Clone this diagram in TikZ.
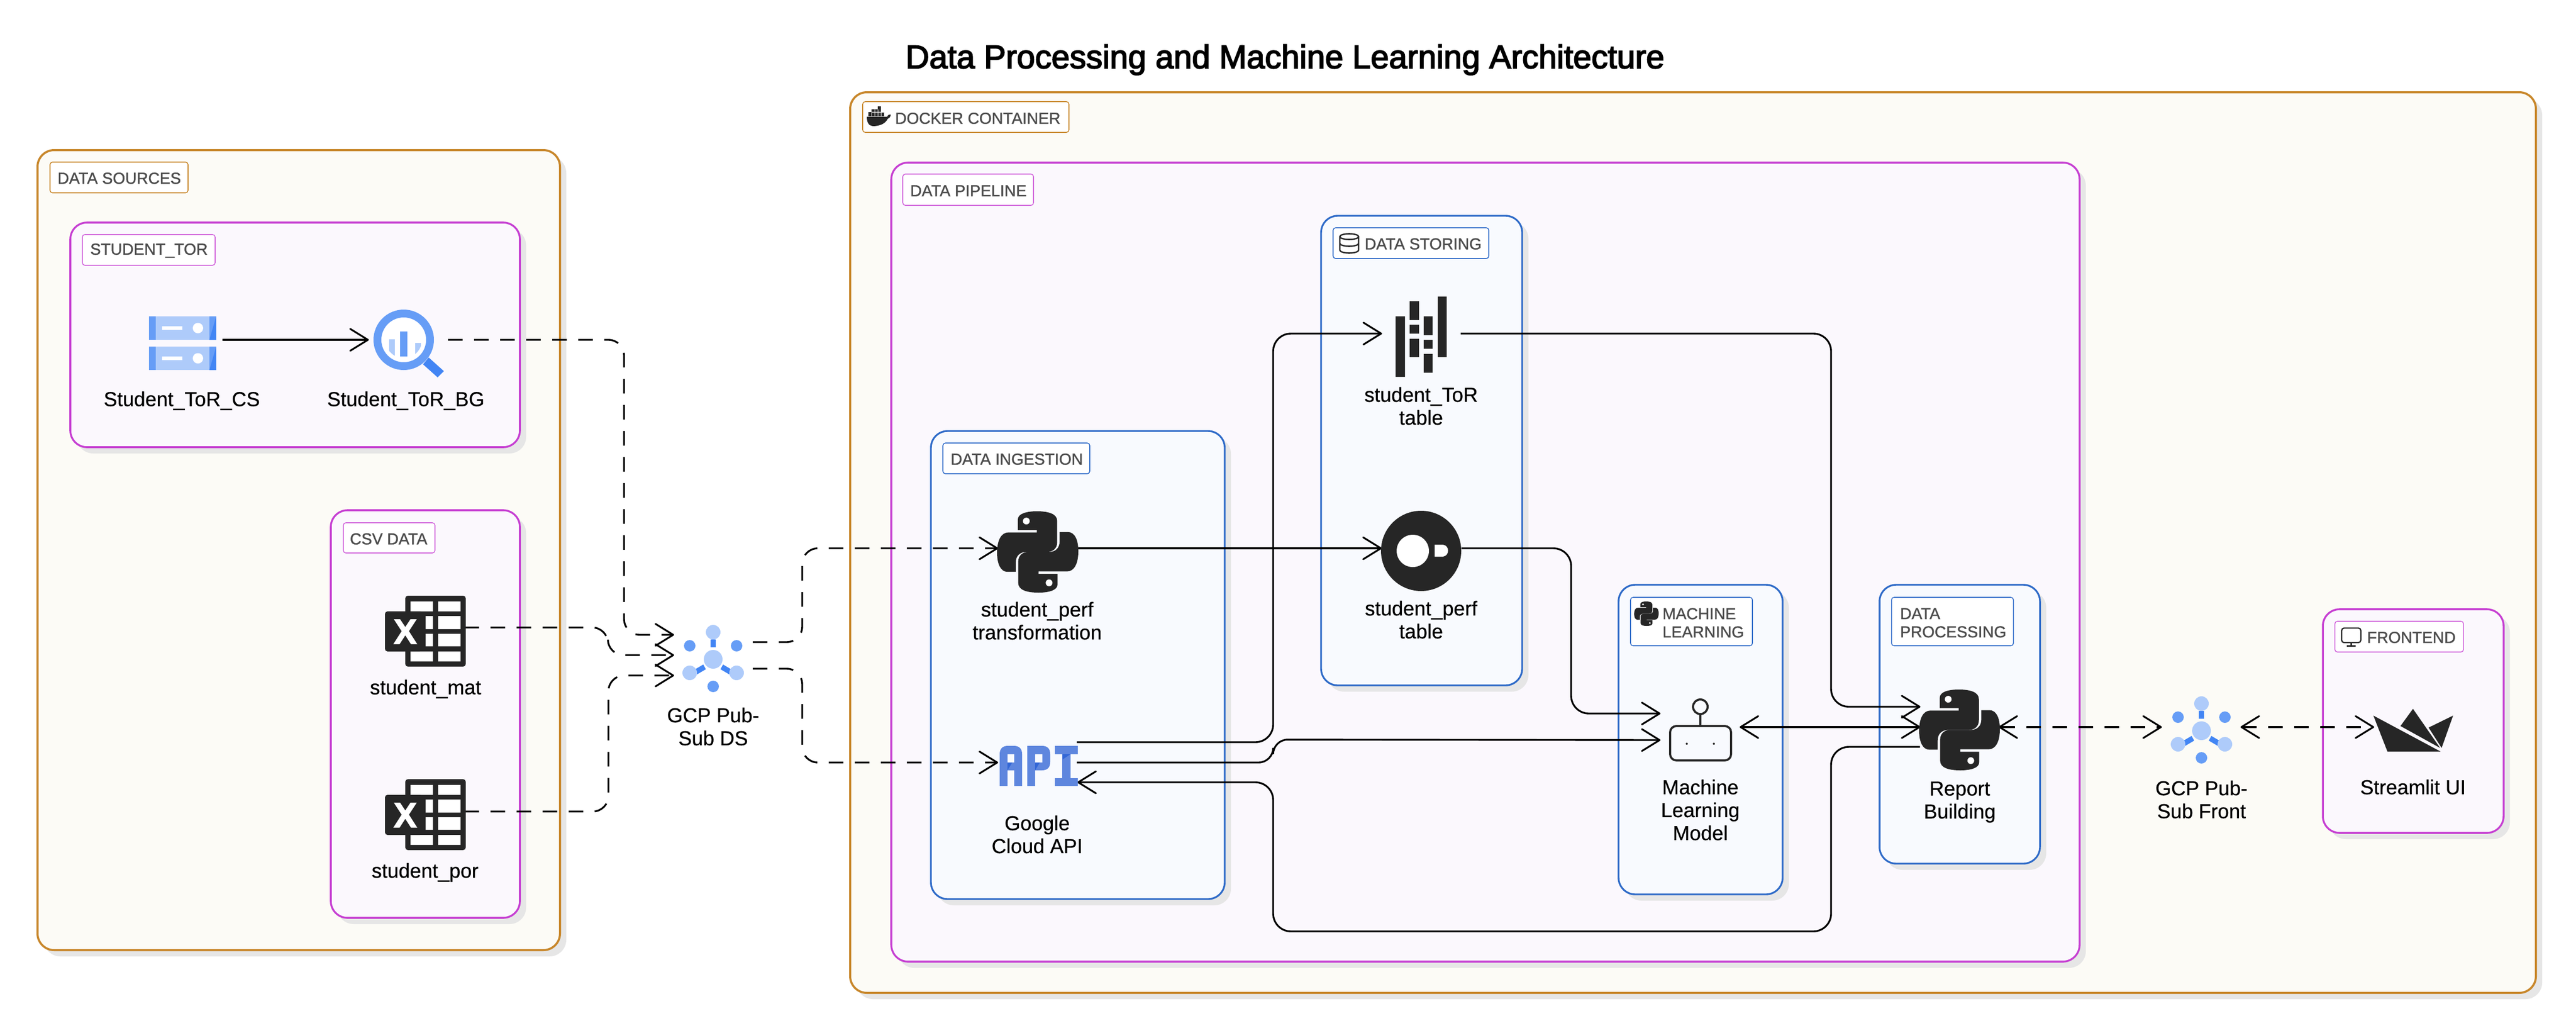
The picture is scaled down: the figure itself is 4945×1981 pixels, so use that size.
\documentclass[tikz,border=0pt]{standalone}
\usepackage{fontspec}
\usetikzlibrary{arrows.meta,calc,shadows}
\setmainfont{Liberation Sans}
\newfontfamily\titlefont[FakeBold=3]{Liberation Sans}
\newfontfamily\tagfont[FakeBold=1.2]{Liberation Sans}
\newfontfamily\labfont[FakeBold=0.5]{Liberation Sans}
\definecolor{orangeS}{HTML}{C8872B}
\definecolor{orangeF}{HTML}{FCFBF6}
\definecolor{magS}{HTML}{C63FD2}
\definecolor{magF}{HTML}{FBF8FD}
\definecolor{bluS}{HTML}{2F6BC8}
\definecolor{bluF}{HTML}{F8FAFE}
\definecolor{shade}{HTML}{E6E6E6}
\definecolor{ink}{HTML}{262626}
\definecolor{tagtext}{HTML}{4D4D4D}
\definecolor{gLight}{HTML}{AECBFA}
\definecolor{gMid}{HTML}{669DF6}
\definecolor{gDark}{HTML}{4285F4}
\definecolor{apiC}{HTML}{5E86DE}
\definecolor{apiD}{HTML}{3367D6}
\tikzset{
  grpbox/.style={rectangle,inner sep=0pt,outer sep=0pt,rounded corners=16pt,
    drop shadow={shadow xshift=6pt,shadow yshift=-6pt,fill=shade,opacity=1}},
  outerbox/.style={grpbox,draw=orangeS,fill=orangeF,line width=2pt},
  magbox/.style={grpbox,draw=magS,fill=magF,line width=1.8pt},
  blubox/.style={grpbox,draw=bluS,fill=bluF,line width=1.7pt},
  tagbox/.style={rectangle,inner sep=0pt,outer sep=0pt,rounded corners=2.5pt,fill=white,line width=.8pt},
  tagO/.style={tagbox,draw=orangeS},
  tagM/.style={tagbox,draw=magS!80},
  tagB/.style={tagbox,draw=bluS},
  tagtxt/.style={inner sep=0pt,text=tagtext,font=\tagfont\fontsize{15.3}{17.5}\selectfont,align=left},
  lab/.style={inner sep=0pt,text=black,font=\labfont\fontsize{19.4}{22}\selectfont,align=center},
  iconbox/.style={rectangle,draw=none,inner sep=0pt,outer sep=0pt},
  flow/.style={draw=black,line width=1.7pt,rounded corners=17pt},
  dflow/.style={flow,rounded corners=15pt,dash pattern=on 14pt off 11pt},
  tipin/.style={-{Straight Barb[length=17pt,width=21pt,round]}},
  tipboth/.style={{Straight Barb[length=17pt,width=21pt,round]}-{Straight Barb[length=17pt,width=21pt,round]}},
  pylogo/.pic={
    \fill[ink] (25.6,23) -- (25.6,10) .. controls (25.6,3) and (36,0) .. (49,0) .. controls (63,0) and (74,3) .. (74,12) -- (74,38) .. controls (74,46) and (68,50) .. (62,50) -- (36,50) .. controls (28,50) and (23,55) .. (23,63) -- (23,74.5) -- (13,74.5) .. controls (4,74.5) and (0,64) .. (0,51) .. controls (0,36) and (5,26) .. (14,26) -- (49,26) -- (49,23) -- cycle;
    \fill[ink,rotate around={180:(50,50)}] (25.6,23) -- (25.6,10) .. controls (25.6,3) and (36,0) .. (49,0) .. controls (63,0) and (74,3) .. (74,12) -- (74,38) .. controls (74,46) and (68,50) .. (62,50) -- (36,50) .. controls (28,50) and (23,55) .. (23,63) -- (23,74.5) -- (13,74.5) .. controls (4,74.5) and (0,64) .. (0,51) .. controls (0,36) and (5,26) .. (14,26) -- (49,26) -- (49,23) -- cycle;
    \fill[white] (36,12) circle[radius=4.2];
    \fill[white] (64,88) circle[radius=4.2];
  },
  excel/.pic={
    \fill[ink,rounded corners=2.5pt] (39,0) rectangle (155,136);
    \fill[white] (49,11) rectangle (92,30) (102,11) rectangle (145,30)
      (102,39) rectangle (145,64) (102,73) rectangle (145,97)
      (49,107) rectangle (92,126) (102,107) rectangle (145,126)
      (78,39) rectangle (92,64) (78,73) rectangle (92,97);
    \fill[ink,rounded corners=2.5pt] (0,30) rectangle (72,107);
    \fill[white] (17,45) -- (29,45) -- (39,60) -- (49,45) -- (61,45) -- (46,68) -- (62,93) -- (50,93) -- (39,76) -- (28,93) -- (16,93) -- (32,68) -- cycle;
  },
  pubsub/.pic={
    \fill[gDark] (-5,-38) rectangle (5,-23);
    \fill[gDark] (-36,20) -- (-19,10) -- (-14,19) -- (-31,29) -- cycle;
    \fill[gDark] (36,20) -- (19,10) -- (14,19) -- (31,29) -- cycle;
    \fill[gLight] (0,0) circle[radius=18];
    \fill[gLight] (0,-52) circle[radius=14];
    \fill[gLight] (-45,26) circle[radius=14];
    \fill[gLight] (45,26) circle[radius=14];
    \fill[gMid] (-45,-26) circle[radius=11];
    \fill[gMid] (45,-26) circle[radius=11];
    \fill[gMid] (0,52) circle[radius=11];
  },
  server/.pic={
    \fill[gLight] (0,0) rectangle (129,45);
    \fill[gMid] (0,0) rectangle (13,45);
    \fill[gMid] (116,0) rectangle (129,45);
    \fill[gDark] (129,0) -- (129,45) -- (116,45) -- cycle;
    \fill[white] (25,19) rectangle (64,26);
    \fill[white] (94,22.5) circle[radius=10];
  }
}
\newcommand\grp[6]{\node[#6,anchor=north west,minimum width={(#4-#2)*.5pt},minimum height={(#5-#3)*.5pt}] (#1) at (#2,#3) {};}
\newcommand\icon[5]{\node[iconbox,minimum width={#4*.5pt},minimum height={#5*.5pt}] (#1) at (#2,#3) {};}
\begin{document}
\begin{tikzpicture}[x=0.5pt,y=-0.5pt]
\useasboundingbox (0,0) rectangle (4945,1981);
\fill[white] (0,0) rectangle (4945,1981);
% title
\node[inner sep=0pt,anchor=base west,font=\titlefont\fontsize{31.5}{36}\selectfont] (title) at (1738,131) {Data Processing and Machine Learning Architecture};
% groups
\grp{sources}{72}{288}{1075}{1823}{outerbox}
\grp{docker}{1632}{177}{4868}{1905}{outerbox}
\grp{studtor}{135}{427}{998}{858}{magbox}
\grp{csv}{635}{979}{998}{1761}{magbox}
\grp{pipeline}{1711}{312}{3992}{1845}{magbox}
\grp{ingest}{1787}{827}{2351}{1725}{blubox}
\grp{storing}{2536}{414}{2922}{1315}{blubox}
\grp{mlbox}{3107}{1122}{3422}{1716}{blubox}
\grp{procbox}{3608}{1122}{3916}{1657}{blubox}
\grp{front}{4459}{1169}{4806}{1598}{magbox}
% group tags
\grp{tSources}{96}{311}{361}{370}{tagO}
\node[tagtxt] (xSources) at (229,342) {DATA SOURCES};
\grp{tTor}{158}{450}{413}{509}{tagM}
\node[tagtxt] (xTor) at (286,481) {STUDENT\_TOR};
\grp{tCsv}{659}{1003}{835}{1061}{tagM}
\node[tagtxt] (xCsv) at (746,1034) {CSV DATA};
\grp{tDocker}{1656}{195}{2052}{254}{tagO}
\node[tagtxt] (xDocker) at (1877,227) {DOCKER CONTAINER};
\grp{tPipe}{1733}{334}{1984}{394}{tagM}
\node[tagtxt] (xPipe) at (1859,366) {DATA PIPELINE};
\grp{tIngest}{1810}{850}{2092}{909}{tagB}
\node[tagtxt] (xIngest) at (1952,881) {DATA INGESTION};
\grp{tStoring}{2559}{437}{2858}{496}{tagB}
\node[tagtxt] (xStoring) at (2732,468) {DATA STORING};
\grp{tMl}{3130}{1146}{3364}{1239}{tagB}
\node[tagtxt,anchor=west] (xMl) at (3191,1195) {MACHINE\\LEARNING};
\grp{tProc}{3631}{1146}{3865}{1239}{tagB}
\node[tagtxt,anchor=west] (xProc) at (3647,1195) {DATA\\PROCESSING};
\grp{tFront}{4482}{1192}{4729}{1251}{tagM}
\node[tagtxt] (xFront) at (4629,1223) {FRONTEND};
% tag icons
% docker whale
\fill[ink] (1664,224) -- (1703,224) .. controls (1704,221) and (1707,219) .. (1710,220) .. controls (1709,225) and (1707,227) .. (1704,228) .. controls (1700,236) and (1692,241) .. (1678,242) .. controls (1668,242) and (1664,236) .. (1664,224) -- cycle;
\fill[ink] (1667,215) rectangle (1697,223) (1673,209.5) rectangle (1691,214.5) (1685,204) rectangle (1691,209.5);
\draw[white,line width=.3pt] (1673,215)--(1673,223) (1679,210)--(1679,223) (1685,210)--(1685,223) (1691,215)--(1691,223) (1673,214.8)--(1697,214.8);
% db icon
\draw[ink,line width=1.3pt] (2572,454) -- (2572,480) arc[start angle=180,end angle=0,x radius=18,y radius=5.5] -- (2608,454)
  (2572,467) arc[start angle=180,end angle=0,x radius=18,y radius=5.5]
  (2590,454) ellipse[x radius=18,y radius=5.5];
% monitor icon
\draw[ink,line width=1.2pt,rounded corners=2.5pt] (4495,1205) rectangle (4532,1233);
\fill[ink] (4512,1233) rectangle (4515,1239);
\fill[ink] (4505,1238) rectangle (4522,1241);
\pic[scale=.47] at (3137,1154) {pylogo};
% icons: anchors
\icon{srv}{350}{658}{130}{103}
\icon{bq}{775}{652}{116}{116}
\icon{mat}{816}{1211}{155}{136}
\icon{por}{816}{1563}{155}{136}
\icon{hubds}{1369}{1265}{116}{134}
\icon{pyT}{1992}{1058}{156}{156}
\icon{api}{1994}{1470}{150}{77}
\icon{tor}{2728}{646}{98}{154}
\icon{perf}{2728}{1057}{155}{154}
\icon{robot}{3264}{1415}{117}{90}
\icon{pyR}{3762}{1400}{155}{155}
\icon{hubfr}{4226}{1402}{116}{134}
\icon{stream}{4632}{1400}{155}{82}
% connectors
\draw[flow,tipin] ($(srv.east)+(12,-6)$) -- ($(bq.west)+(-9,0)$);
\draw[dflow,tipin] ($(bq.east)+(27,0)$) -- (1198,652) -- (1198,1218) -- ($(hubds.west)+(-17,-47)$);
\draw[dflow,tipin] ($(mat.east)+(-2,-7)$) -- (1167,1204) -- (1167,1257) -- ($(hubds.west)+(-17,-8)$);
\draw[dflow,tipin] ($(por.east)+(-2,-6)$) -- (1168,1557) -- (1168,1296) -- ($(hubds.west)+(-17,31)$);
\draw[dflow,tipin] ($(hubds.east)+(18,-33)$) -- (1540,1232) -- (1540,1052) -- ($(pyT.west)+(2,-6)$);
\draw[dflow,tipin] ($(hubds.east)+(18,18)$) -- (1540,1283) -- (1540,1463) -- ($(api.west)+(-3,-7)$);
\draw[flow,tipin] ($(pyT.east)+(0,-6)$) -- ($(perf.west)+(2,-5)$);
\draw[flow,tipin] ($(api.east)+(-2,-46)$) -- (2444,1424) -- (2444,640) -- ($(tor.west)+(-26,-6)$);
\draw[flow,tipin,rounded corners=14pt] ($(api.east)+(-2,-7)$) -- (2444,1463) -- (2444,1419) -- ($(robot.west)+(-18,5)$);
\draw[flow,tipin] ($(pyR.west)+(1,33)$) -- (3515,1433) -- (3515,1787) -- (2444,1787) -- (2444,1501) -- ($(api.east)+(-1,31)$);
\draw[flow,tipin] ($(tor.east)+(27,-6)$) -- (3515,640) -- (3515,1356) -- ($(pyR.west)+(2,-44)$);
\draw[flow,tipin] ($(perf.east)+(0,-5)$) -- (3016,1052) -- (3016,1369) -- ($(robot.west)+(-18,-46)$);
\draw[flow,tipboth] ($(robot.east)+(17,-20)$) -- ($(pyR.west)+(2,-5)$);
\draw[dflow,tipboth] ($(pyR.east)+(-3,-5)$) -- ($(hubfr.west)+(-18,-7)$);
\draw[dflow,tipboth] ($(hubfr.east)+(17,-7)$) -- ($(stream.west)+(3,-5)$);
% server icon
\pic at (286,607) {server};
\pic at (286,665) {server};
% bigquery icon
\begin{scope}[shift={(-3,0)}]
\fill[gDark] (826,686) -- (855,712) -- (843,724) -- (815,699) -- cycle;
\fill[white] (778,652) circle[radius=43];
\fill[gMid,even odd rule] (778,652) circle[radius=58] (778,652) circle[radius=43];
\begin{scope}
\clip (778,652) circle[radius=35];
\fill[gLight] (750,651) rectangle (761,690);
\fill[gLight] (800,658) rectangle (811,690);
\end{scope}
\fill[gMid] (771,636) rectangle (785,684);
\end{scope}
% excel icons
\pic at (739,1143) {excel};
\pic at (739,1495) {excel};
% pubsub icons
\pic at (1369,1265) {pubsub};
\pic at (4226,1402) {pubsub};
% python icons
\pic[scale=1.56] at (1914,981) {pylogo};
\pic[scale=1.55] at (3684,1323) {pylogo};
% api icon
\fill[apiC,even odd rule] (1919,1508) -- (1919,1447) .. controls (1919,1436) and (1925,1431) .. (1935,1431) -- (1946,1431) .. controls (1956,1431) and (1962,1436) .. (1962,1447) -- (1962,1508) -- (1947,1508) -- (1947,1478) -- (1934,1478) -- (1934,1508) -- cycle (1934,1447) rectangle (1947,1463);
\fill[apiC,even odd rule] (1972,1508) -- (1972,1431) -- (2000,1431) .. controls (2010,1431) and (2016,1436) .. (2016,1447) -- (2016,1462) .. controls (2016,1473) and (2010,1478) .. (2000,1478) -- (1987,1478) -- (1987,1508) -- cycle (1987,1447) rectangle (2001,1463);
\fill[apiC] (2025,1431) rectangle (2069,1447) (2039,1447) rectangle (2055,1493) (2025,1493) rectangle (2069,1508);
\fill[apiD] (1934,1463) -- (1943,1463) -- (1934,1478) -- cycle;
\fill[apiD] (1987,1463) -- (1996,1463) -- (1987,1478) -- cycle;
\fill[apiD] (2040,1447) -- (2055,1447) -- (2040,1457) -- cycle;
% columnar icon
\fill[ink] (2679,607) rectangle (2697,723)
  (2706,578) rectangle (2724,614) (2706,623) rectangle (2724,640) (2706,650) rectangle (2724,685)
  (2733,607) rectangle (2750,643) (2733,652) rectangle (2750,669) (2733,679) rectangle (2750,715)
  (2760,569) rectangle (2777,685);
% duck icon
\fill[ink] (2728,1057) circle[radius=77];
\fill[white] (2712,1057) circle[radius=31];
\fill[white] (2754,1045) -- (2770,1045) .. controls (2783,1047) and (2783,1066) .. (2770,1068) -- (2754,1068) -- cycle;
% robot icon
\draw[ink,line width=2pt,rounded corners=6pt] (3206,1393) rectangle (3323,1459);
\draw[ink,line width=2pt] (3264,1393) -- (3264,1370) (3264,1356) circle[radius=14];
\fill[ink] (3238,1427) circle[radius=2] (3290,1427) circle[radius=2];
% streamlit icon
\fill[ink] (4556,1373) -- (4685,1442) -- (4583,1442) -- cycle;
\fill[ink] (4632,1360) -- (4684,1435) -- (4608,1393) -- cycle;
\fill[ink] (4709,1373) -- (4687,1435) -- (4662,1396) -- cycle;
% node labels
\node[lab] (lSrv) at (349,769) {Student\_ToR\_CS};
\node[lab] (lBq) at (779,769) {Student\_ToR\_BG};
\node[lab] (lMat) at (817,1322) {student\_mat};
\node[lab] (lPor) at (816,1674) {student\_por};
\node[lab] (lHubds) at (1369,1394) {GCP Pub-\\Sub DS};
\node[lab] (lPyT) at (1991,1191) {student\_perf\\transformation};
\node[lab] (lApi) at (1991,1601) {Google\\Cloud API};
\node[lab] (lTor) at (2728,779) {student\_ToR\\table};
\node[lab] (lPerf) at (2728,1189) {student\_perf\\table};
\node[lab] (lMl) at (3264,1554) {Machine\\Learning\\Model};
\node[lab] (lRep) at (3762,1539) {Report\\Building};
\node[lab] (lHubfr) at (4226,1534) {GCP Pub-\\Sub Front};
\node[lab] (lStream) at (4632,1510) {Streamlit UI};
\end{tikzpicture}
\end{document}
